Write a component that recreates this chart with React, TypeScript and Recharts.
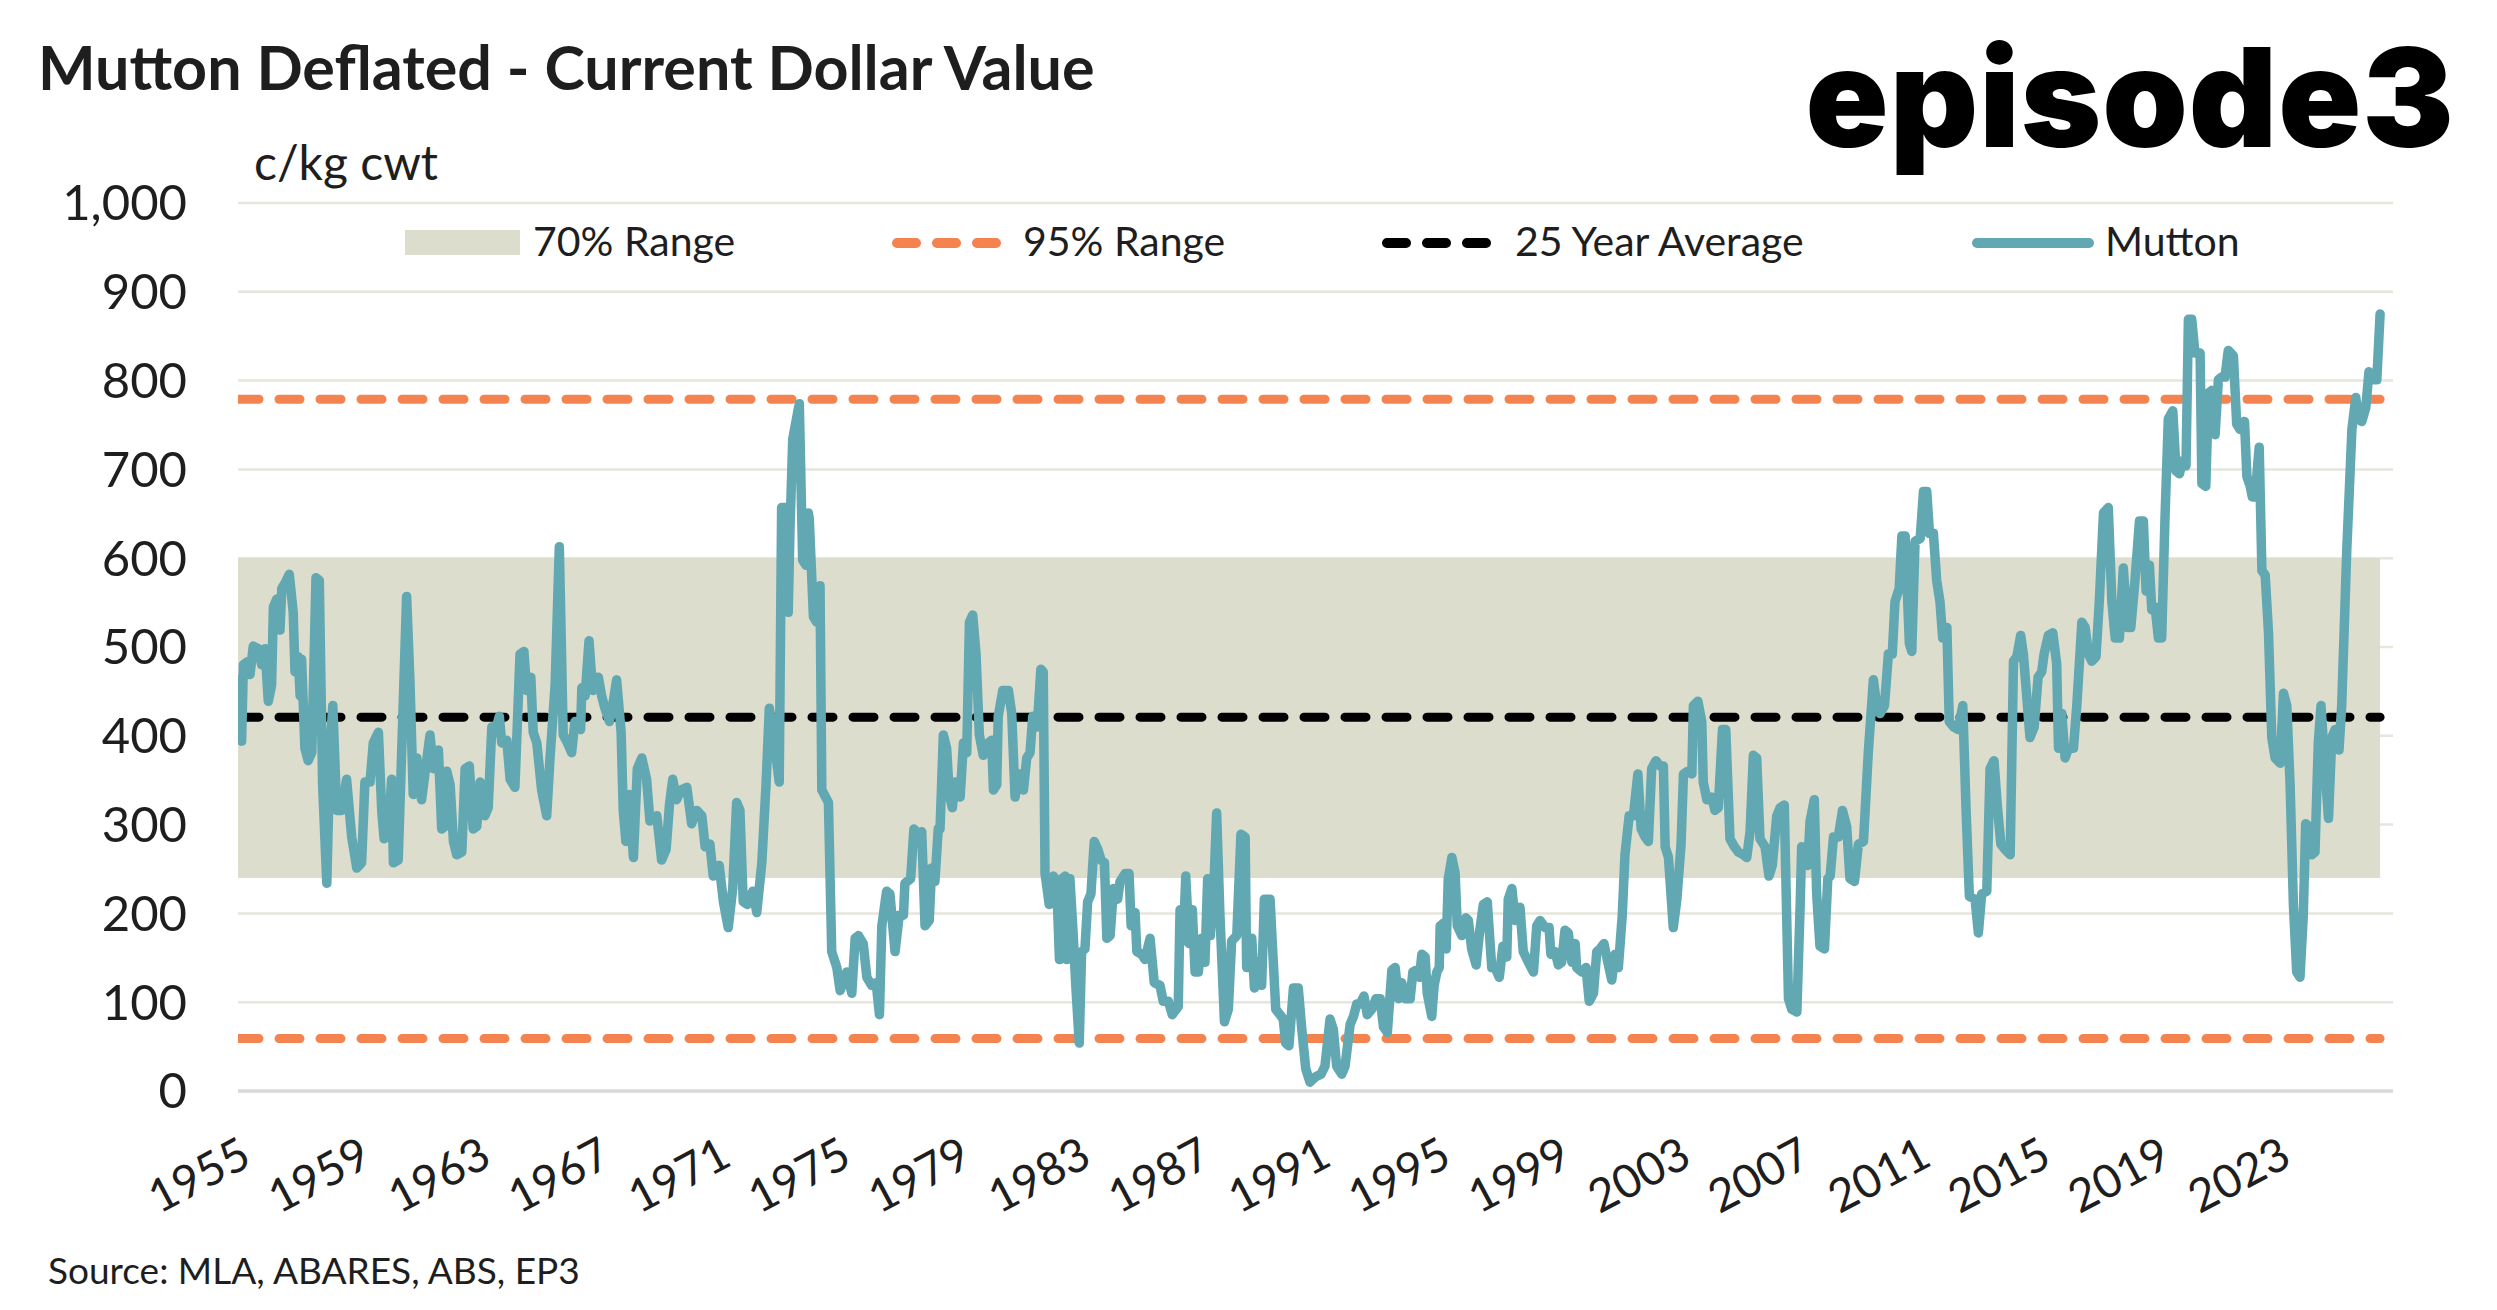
import {
  ComposedChart,
  CartesianGrid,
  XAxis,
  YAxis,
  Area,
  Line,
} from "recharts";

type Pt = [number, number];

// Mutton price (c/kg cwt, deflated) as [year, value]
const mutton1955: Pt[] = [
  [1955.0, 463], [1955.12, 394], [1955.18, 480], [1955.29, 483], [1955.4, 469], [1955.51, 501],
  [1955.68, 498], [1955.79, 480], [1955.9, 498], [1956.01, 439], [1956.12, 457], [1956.18, 545],
  [1956.29, 554], [1956.4, 519], [1956.46, 566], [1956.57, 572], [1956.71, 582], [1956.84, 539],
  [1956.9, 472], [1957.01, 489], [1957.07, 445], [1957.12, 486], [1957.23, 386], [1957.34, 372],
  [1957.46, 381], [1957.6, 578], [1957.71, 575], [1957.82, 345], [1957.96, 234], [1958.07, 386],
  [1958.16, 434], [1958.29, 316], [1958.46, 316], [1958.62, 351], [1958.79, 286], [1958.96, 251],
  [1959.12, 257], [1959.23, 348], [1959.4, 348], [1959.51, 392], [1959.68, 404], [1959.79, 316],
  [1959.87, 284], [1960.01, 287], [1960.12, 351], [1960.18, 257], [1960.34, 260], [1960.46, 386],
  [1960.62, 557], [1960.73, 463], [1960.84, 334], [1960.96, 375], [1961.12, 328], [1961.23, 357],
  [1961.4, 401], [1961.51, 363], [1961.68, 384], [1961.79, 295], [1961.9, 298], [1961.96, 360],
  [1962.07, 345], [1962.18, 281], [1962.29, 266], [1962.46, 269], [1962.57, 363], [1962.71, 366],
  [1962.84, 295], [1962.96, 298], [1963.07, 348], [1963.18, 342], [1963.23, 310], [1963.34, 319],
  [1963.46, 410], [1963.57, 404], [1963.71, 422], [1963.79, 392], [1963.96, 395], [1964.07, 351],
  [1964.23, 342],
];

const mutton1964: Pt[] = [
  [1964.4, 492], [1964.53, 495], [1964.62, 451], [1964.76, 466], [1964.84, 404], [1964.96, 392],
  [1965.12, 339], [1965.29, 310], [1965.4, 375], [1965.57, 457], [1965.71, 613], [1965.84, 401],
  [1965.98, 392], [1966.12, 381], [1966.23, 416], [1966.42, 407], [1966.46, 454], [1966.57, 445],
  [1966.7, 507], [1966.82, 451], [1967.01, 466], [1967.12, 445], [1967.23, 431], [1967.38, 416],
  [1967.51, 439], [1967.62, 463], [1967.77, 404], [1967.84, 316], [1967.93, 281], [1968.04, 334],
  [1968.18, 263], [1968.31, 363], [1968.46, 375], [1968.62, 351], [1968.73, 304], [1968.96, 310],
  [1969.12, 260], [1969.27, 272], [1969.38, 322], [1969.49, 351], [1969.62, 328], [1969.76, 339],
  [1969.96, 342], [1970.12, 301], [1970.29, 316], [1970.46, 310], [1970.57, 275], [1970.73, 278],
  [1970.84, 242], [1971.04, 254], [1971.18, 213], [1971.34, 184], [1971.49, 228], [1971.62, 325],
  [1971.73, 316], [1971.84, 213], [1971.98, 210], [1972.16, 225], [1972.29, 201], [1972.46, 257],
  [1972.6, 345], [1972.71, 431], [1972.9, 386], [1973.04, 348], [1973.12, 657], [1973.23, 657],
  [1973.34, 539], [1973.4, 634], [1973.49, 734], [1973.6, 754], [1973.71, 774], [1973.82, 598],
  [1973.93, 592], [1974.01, 651],
];

const mutton1974: Pt[] = [
  [1974.04, 645], [1974.18, 534], [1974.29, 528], [1974.4, 569], [1974.46, 339], [1974.68, 325],
  [1974.79, 157], [1974.96, 139], [1975.07, 113], [1975.29, 134], [1975.46, 110], [1975.57, 172],
  [1975.68, 175], [1975.84, 166], [1975.96, 128], [1976.12, 119], [1976.27, 122], [1976.38, 86],
  [1976.46, 186], [1976.62, 225], [1976.73, 222], [1976.9, 157], [1977.04, 198], [1977.18, 198],
  [1977.23, 234], [1977.42, 239], [1977.53, 295], [1977.68, 289], [1977.79, 292], [1977.9, 186],
  [1978.04, 192], [1978.12, 251], [1978.23, 236], [1978.34, 295], [1978.4, 295], [1978.51, 401],
  [1978.62, 386], [1978.71, 334], [1978.81, 319], [1978.9, 348], [1979.07, 331], [1979.18, 392],
  [1979.29, 381], [1979.38, 528], [1979.49, 536], [1979.6, 492], [1979.71, 401], [1979.84, 378],
  [1980.01, 392], [1980.12, 395], [1980.18, 339], [1980.29, 345], [1980.34, 422], [1980.49, 451],
  [1980.68, 451], [1980.79, 425], [1980.9, 331], [1981.04, 357], [1981.18, 339], [1981.29, 375],
  [1981.4, 381], [1981.49, 422], [1981.64, 410], [1981.76, 475], [1981.84, 472], [1981.9, 245],
  [1982.04, 210], [1982.18, 242], [1982.29, 234], [1982.38, 148], [1982.46, 239], [1982.57, 242],
  [1982.62, 148], [1982.73, 239], [1982.84, 175], [1982.93, 116], [1983.04, 54],
];

const mutton1983: Pt[] = [
  [1983.12, 157], [1983.23, 160], [1983.32, 213], [1983.43, 222], [1983.54, 281], [1983.66, 272],
  [1983.77, 260], [1983.88, 257], [1983.96, 172], [1984.07, 175], [1984.18, 228], [1984.32, 216],
  [1984.4, 236], [1984.57, 245], [1984.7, 245], [1984.77, 186], [1984.9, 201], [1984.96, 157],
  [1985.12, 154], [1985.23, 148], [1985.4, 172], [1985.54, 122], [1985.73, 119], [1985.84, 101],
  [1986.01, 101], [1986.14, 86], [1986.34, 95], [1986.4, 204], [1986.51, 169], [1986.59, 242],
  [1986.7, 166], [1986.81, 204], [1986.9, 134], [1987.01, 134], [1987.12, 172], [1987.23, 145],
  [1987.32, 239], [1987.41, 175], [1987.54, 242], [1987.62, 313], [1987.73, 198], [1987.88, 78],
  [1988.01, 92], [1988.12, 169], [1988.29, 175], [1988.43, 289], [1988.57, 286], [1988.62, 139],
  [1988.79, 172], [1988.88, 116], [1988.99, 145], [1989.12, 119], [1989.21, 216], [1989.4, 216],
  [1989.59, 92], [1989.73, 86], [1989.84, 81], [1989.92, 54], [1990.03, 51], [1990.18, 116],
  [1990.34, 116], [1990.46, 69], [1990.59, 25], [1990.73, 10], [1990.92, 16], [1991.1, 19],
  [1991.23, 28], [1991.4, 81], [1991.51, 69], [1991.62, 28], [1991.79, 19], [1991.9, 28],
];

const mutton1992: Pt[] = [
  [1992.07, 75], [1992.18, 84], [1992.29, 98], [1992.4, 98], [1992.53, 107], [1992.64, 86],
  [1992.79, 92], [1992.93, 104], [1993.07, 104], [1993.18, 72], [1993.31, 66], [1993.46, 136],
  [1993.57, 139], [1993.68, 104], [1993.79, 122], [1993.9, 104], [1994.07, 104], [1994.16, 134],
  [1994.27, 136], [1994.38, 128], [1994.46, 154], [1994.57, 151], [1994.64, 110], [1994.79, 84],
  [1994.87, 119], [1994.96, 134], [1995.04, 139], [1995.07, 186], [1995.18, 189], [1995.27, 160],
  [1995.34, 239], [1995.46, 263], [1995.57, 245], [1995.64, 186], [1995.79, 175], [1995.93, 195],
  [1996.01, 192], [1996.12, 160], [1996.27, 142], [1996.38, 178], [1996.51, 210], [1996.64, 213],
  [1996.79, 139], [1996.9, 139], [1997.04, 128], [1997.16, 163], [1997.29, 151], [1997.34, 216],
  [1997.46, 228], [1997.57, 192], [1997.73, 207], [1997.84, 157], [1998.01, 145], [1998.18, 134],
  [1998.29, 186], [1998.4, 192], [1998.57, 184], [1998.7, 184], [1998.76, 154], [1998.9, 157],
  [1999.01, 142], [1999.12, 145], [1999.23, 181], [1999.34, 178], [1999.46, 145], [1999.57, 166],
  [1999.62, 139], [1999.79, 134], [1999.93, 139], [2000.04, 101], [2000.18, 110], [2000.29, 157],
  [2000.4, 160], [2000.53, 166], [2000.62, 151], [2000.79, 125], [2000.9, 154],
];

const mutton2001: Pt[] = [
  [2001.01, 139], [2001.14, 198], [2001.23, 266], [2001.37, 310], [2001.51, 310], [2001.66, 357],
  [2001.77, 295], [2001.9, 286], [2002.01, 281], [2002.12, 363], [2002.26, 372], [2002.4, 366],
  [2002.51, 366], [2002.57, 275], [2002.68, 263], [2002.84, 184], [2002.96, 216], [2003.1, 278],
  [2003.18, 357], [2003.32, 360], [2003.46, 357], [2003.51, 434], [2003.66, 439], [2003.79, 416],
  [2003.84, 348], [2003.96, 328], [2004.12, 331], [2004.23, 316], [2004.34, 319], [2004.48, 407],
  [2004.59, 407], [2004.73, 284], [2004.88, 275], [2005.01, 269], [2005.18, 266], [2005.29, 263],
  [2005.4, 292], [2005.51, 378], [2005.62, 375], [2005.73, 284], [2005.9, 275], [2006.03, 242],
  [2006.14, 254], [2006.29, 310], [2006.4, 319], [2006.54, 322], [2006.68, 104], [2006.79, 92],
  [2006.96, 89], [2007.07, 210], [2007.12, 275], [2007.23, 269], [2007.32, 254], [2007.4, 304],
  [2007.54, 328], [2007.62, 222], [2007.73, 163], [2007.88, 160], [2007.99, 239], [2008.07, 242],
  [2008.18, 286], [2008.34, 286], [2008.48, 316], [2008.62, 298], [2008.73, 239], [2008.88, 236],
  [2009.01, 278], [2009.18, 281], [2009.34, 381], [2009.51, 463], [2009.62, 434], [2009.73, 425],
  [2009.88, 434], [2010.01, 492], [2010.14, 492], [2010.23, 551], [2010.37, 566], [2010.46, 625],
  [2010.57, 625],
];

const mutton2010: Pt[] = [
  [2010.71, 504], [2010.79, 495], [2010.9, 619], [2011.07, 622], [2011.18, 675], [2011.29, 675],
  [2011.38, 628], [2011.51, 628], [2011.62, 575], [2011.73, 551], [2011.82, 510], [2011.96, 522],
  [2012.04, 416], [2012.18, 410], [2012.34, 407], [2012.49, 434], [2012.6, 316], [2012.71, 219],
  [2012.9, 216], [2013.01, 178], [2013.12, 222], [2013.29, 225], [2013.4, 363], [2013.53, 372],
  [2013.64, 322], [2013.76, 278], [2013.9, 272], [2014.07, 266], [2014.18, 484], [2014.29, 489],
  [2014.42, 513], [2014.51, 492], [2014.62, 445], [2014.73, 398], [2014.87, 410], [2015.0, 466],
  [2015.12, 472], [2015.2, 492], [2015.34, 513], [2015.49, 516], [2015.62, 481], [2015.68, 386],
  [2015.79, 425], [2015.9, 375], [2016.01, 386], [2016.18, 386], [2016.29, 434], [2016.46, 528],
  [2016.57, 522], [2016.68, 492], [2016.79, 484], [2016.93, 489], [2017.04, 551], [2017.18, 651],
  [2017.34, 657], [2017.46, 551], [2017.57, 510], [2017.71, 510], [2017.84, 589], [2017.98, 522],
  [2018.09, 522], [2018.23, 575], [2018.38, 642], [2018.51, 642], [2018.6, 563], [2018.71, 592],
  [2018.79, 542], [2018.9, 545], [2019.01, 510], [2019.12, 510], [2019.23, 645], [2019.34, 757],
  [2019.49, 766], [2019.6, 698], [2019.71, 695], [2019.82, 710], [2019.93, 704],
];

const mutton2020: Pt[] = [
  [2020.01, 869], [2020.12, 869], [2020.23, 831], [2020.4, 831], [2020.46, 684], [2020.59, 681],
  [2020.68, 786], [2020.79, 789], [2020.9, 739], [2021.01, 801], [2021.12, 804], [2021.23, 804],
  [2021.34, 834], [2021.51, 828], [2021.62, 751], [2021.73, 745], [2021.88, 754], [2021.96, 692],
  [2022.07, 681], [2022.14, 669], [2022.23, 669], [2022.37, 725], [2022.46, 586], [2022.57, 581],
  [2022.68, 516], [2022.79, 398], [2022.9, 375], [2023.07, 369], [2023.18, 448], [2023.29, 434],
  [2023.4, 345], [2023.51, 210], [2023.62, 134], [2023.73, 128], [2023.84, 198], [2023.92, 301],
  [2024.03, 298], [2024.12, 266], [2024.23, 269], [2024.34, 392], [2024.43, 434], [2024.54, 375],
  [2024.68, 307], [2024.79, 398], [2024.9, 407], [2025.03, 384], [2025.12, 434], [2025.29, 610],
  [2025.46, 745], [2025.59, 781], [2025.68, 757], [2025.79, 754], [2025.92, 769], [2026.03, 810],
  [2026.18, 801], [2026.29, 801], [2026.4, 875],
];

const firstYear = 1955;
const lastYear = 2026.4;
const range70: [number, number] = [240, 600];
const range95Low = 59;
const range95High = 779;
const average25 = 421;

const xTicks = [1955, 1959, 1963, 1967, 1971, 1975, 1979, 1983, 1987, 1991, 1995, 1999, 2003, 2007, 2011, 2015, 2019, 2023];
const yTicks = [0, 100, 200, 300, 400, 500, 600, 700, 800, 900, 1000];

const muttonData = [
  ...mutton1955, ...mutton1964, ...mutton1974, ...mutton1983,
  ...mutton1992, ...mutton2001, ...mutton2010, ...mutton2020,
].map(([year, value]) => ({ year, mutton: value }));

const rangeData = [firstYear, lastYear].map((year) => ({
  year,
  band: range70,
  low: range95Low,
  high: range95High,
  avg: average25,
}));

const ink = "#1E1E1E";
const teal = "#62A8B2";
const orange = "#F5834F";
const bandFill = "#DCDDCD";
const font = "Lato, sans-serif";

const YearTick = (props: any) => {
  const { x, y, payload } = props;
  return (
    <text
      x={x}
      y={y}
      dy={33}
      textAnchor="end"
      transform={`rotate(-28, ${x}, ${y})`}
      fontSize={46}
      fontFamily={font}
      fill={ink}
    >
      {payload.value}
    </text>
  );
};

const Overlay = () => (
  <svg
    width={2497}
    height={1310}
    style={{ position: "absolute", left: 0, top: 0, pointerEvents: "none" }}
    fontFamily={font}
  >
    <text x={38} y={90} fontSize={61} fontWeight={700} fill={ink}>
      Mutton Deflated - Current Dollar Value
    </text>
    <text
      x={2455}
      y={147}
      textAnchor="end"
      fontSize={137}
      fontWeight={900}
      fontFamily="Inter, sans-serif"
      letterSpacing={1}
      fill="#000"
    >
      episode3
    </text>
    <text x={254} y={180} fontSize={48} fill={ink}>
      c/kg cwt
    </text>

    {/* legend */}
    <rect x={405} y={230} width={115} height={25} fill={bandFill} />
    <text x={533} y={256} fontSize={41} fill={ink}>70% Range</text>
    <line x1={897} x2={996} y1={243} y2={243} stroke={orange} strokeWidth={10} strokeDasharray="19 21" strokeLinecap="round" />
    <text x={1023} y={256} fontSize={41} fill={ink}>95% Range</text>
    <line x1={1387} x2={1488} y1={243} y2={243} stroke="#000" strokeWidth={10} strokeDasharray="19 21" strokeLinecap="round" />
    <text x={1515} y={256} fontSize={41} fill={ink}>25 Year Average</text>
    <line x1={1977} x2={2089} y1={243} y2={243} stroke={teal} strokeWidth={10} strokeLinecap="round" />
    <text x={2105} y={256} fontSize={41} fill={ink}>Mutton</text>

    <text x={48} y={1284} fontSize={37} fill={ink}>
      Source: MLA, ABARES, ABS, EP3
    </text>
  </svg>
);

export default function App() {
  return (
    <div
      style={{
        position: "absolute",
        left: 0,
        top: 0,
        width: 2497,
        height: 1310,
        background: "#fff",
        fontFamily: font,
      }}
    >
      <ComposedChart
        width={2497}
        height={1310}
        margin={{ top: 203, right: 104, bottom: 69, left: 38 }}
      >
        <CartesianGrid vertical={false} stroke="#E6E6DC" strokeWidth={2.5} />
        <XAxis
          type="number"
          dataKey="year"
          domain={[1955, 2026.83]}
          ticks={xTicks}
          interval={0}
          height={150}
          tickSize={0}
          tickMargin={44}
          tickLine={false}
          axisLine={{ stroke: "#D9D9D9", strokeWidth: 3.5 }}
          tick={<YearTick />}
          allowDataOverflow
        />
        <YAxis
          domain={[0, 1000]}
          ticks={yTicks}
          interval={0}
          width={200}
          tickSize={0}
          tickMargin={51}
          tickLine={false}
          axisLine={false}
          tick={{ fontSize: 49, fill: ink, fontFamily: font }}
          tickFormatter={(v: number) => v.toLocaleString("en-US")}
        />
        <Area
          data={rangeData}
          dataKey="band"
          type="linear"
          fill={bandFill}
          fillOpacity={1}
          stroke="none"
          isAnimationActive={false}
        />
        <Line
          data={rangeData}
          dataKey="high"
          type="linear"
          stroke={orange}
          strokeWidth={9}
          strokeDasharray="21 20"
          strokeLinecap="round"
          dot={false}
          activeDot={false}
          isAnimationActive={false}
        />
        <Line
          data={rangeData}
          dataKey="low"
          type="linear"
          stroke={orange}
          strokeWidth={9}
          strokeDasharray="21 20"
          strokeLinecap="round"
          dot={false}
          activeDot={false}
          isAnimationActive={false}
        />
        <Line
          data={rangeData}
          dataKey="avg"
          type="linear"
          stroke="#000"
          strokeWidth={9}
          strokeDasharray="21 20"
          strokeLinecap="round"
          dot={false}
          activeDot={false}
          isAnimationActive={false}
        />
        <Line
          data={muttonData}
          dataKey="mutton"
          type="linear"
          stroke={teal}
          strokeWidth={9.5}
          strokeLinejoin="round"
          strokeLinecap="round"
          dot={false}
          activeDot={false}
          isAnimationActive={false}
        />
      </ComposedChart>
      <Overlay />
    </div>
  );
}
